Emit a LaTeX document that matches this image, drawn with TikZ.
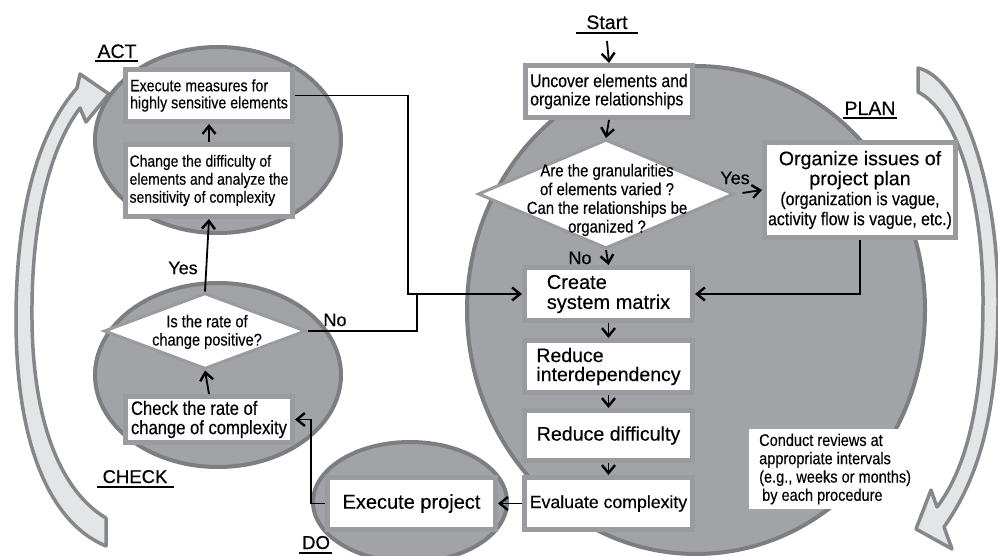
\documentclass[tikz,border=0pt]{standalone}
\usepackage{fontspec}
\setmainfont[FakeBold=0.3]{Liberation Sans}
\newfontfamily\narrowfont[FakeStretch=0.86,FakeBold=0.3]{Liberation Sans}
\usetikzlibrary{shapes.geometric,arrows.meta,calc}

\definecolor{discfill}{HTML}{A2A3A6}
\definecolor{discedge}{HTML}{7D7E81}
\definecolor{boxedge}{HTML}{9A9B9E}
\definecolor{bandfill}{HTML}{E4E5E7}
\definecolor{bandedge}{HTML}{86878A}

\begin{document}
\begin{tikzpicture}[x=1pt,y=-1pt,
  disc/.style={draw=discedge,fill=discfill,line width=4pt},
  stepbox/.style={draw=boxedge,fill=white,line width=5pt,inner sep=0pt},
  choice/.style={diamond,draw=boxedge,fill=white,line width=3pt,inner sep=0pt},
  nar/.style 2 args={font=\narrowfont\fontsize{#1}{#2}\selectfont},
  wide/.style 2 args={font=\fontsize{#1}{#2}\selectfont},
  tag/.style={font=\fontsize{19.5}{20}\selectfont,inner sep=0pt,anchor=base},
  rule/.style={line width=2pt},
  flow/.style={line width=1.8pt,-{Straight Barb[length=8pt,width=13pt,line width=2.4pt]}},
  link/.style={line width=1.8pt},
  loopband/.style={fill=bandfill,draw=bandedge,line width=3.5pt,line join=round}]

\useasboundingbox (0,0) rectangle (998,556);
\clip (0,0) rectangle (998,556);

% curved cycle arrows
\path[loopband] (106,546) -- (106,518)
  .. controls (62,492) and (33,425) .. (32,320)
  .. controls (31,220) and (50,148) .. (80,108)
  -- (86,122) -- (109,94) -- (80,74) -- (77,88)
  .. controls (36,135) and (16,215) .. (16,320)
  .. controls (16,440) and (48,522) .. (106,546) -- cycle;
\path[loopband] (918,68) .. controls (962,78) and (998,185) .. (998,300)
  .. controls (998,410) and (980,476) .. (944,527)
  -- (952,549) -- (916,529) -- (931,490) -- (937,507)
  .. controls (967,468) and (983,400) .. (983,300)
  .. controls (983,200) and (958,112) .. (918,92) -- cycle;

% phase discs
\path[disc] (696,310) ellipse [x radius=229,y radius=244];
\path[disc] (218,140) ellipse [x radius=123,y radius=93];
\path[disc] (218,375) ellipse [x radius=123,y radius=92];
\path[disc] (410,502) ellipse [x radius=97,y radius=60];

% phase labels
\node[tag] (lstart) at (607,29) {Start};
\node[tag] (lplan) at (870,115) {PLAN};
\node[tag] (lact) at (117,58) {ACT};
\node[tag,font=\fontsize{18.5}{19}\selectfont] (lcheck) at (135,483) {CHECK};
\node[tag,font=\fontsize{18.7}{19}\selectfont] (ldo) at (316,549) {DO};
\draw[rule] ($(lstart.base west)+(-10,4)$) -- ($(lstart.base east)+(10,4)$);
\draw[rule] ($(lplan.base west)+(-1,3.5)$) -- ($(lplan.base east)+(1,3.5)$);
\draw[rule] ($(lact.base west)+(-2,3.5)$) -- ($(lact.base east)+(1,3.5)$);
\draw[rule] ($(lcheck.base west)+(-5,4)$) -- ($(lcheck.base east)+(6,4)$);
\draw[rule] ($(ldo.base west)+(-3,4)$) -- ($(ldo.base east)+(2,4)$);

% PLAN
\node[stepbox,minimum width=167,minimum height=52,align=left,nar={18.3}{18.3}]
  (uncover) at (609,91.5) {Uncover elements and\\organize relationships};
\node[choice,minimum width=256,minimum height=109] (gran) at (606,194) {};
\node[nar={17.3}{18.7},align=center,inner sep=0pt] (grantext) at (607,200)
  {Are the granularities\\ of elements varied ?\\Can the relationships be\\organized ?};
\node[stepbox,minimum width=191,minimum height=95,align=center,wide={19.6}{20}]
  (issues) at (860,190)
  {Organize issues of\\project plan\\
   {\narrowfont\fontsize{18.4}{19.5}\selectfont (organization is vague,}\\
   {\narrowfont\fontsize{18.4}{19.5}\selectfont activity flow is vague, etc.)}};
\node[stepbox,minimum width=168,minimum height=53,align=left,wide={20}{20}]
  (create) at (608.5,294) {Create\\system matrix};
\node[stepbox,minimum width=168,minimum height=52,align=left,wide={19.5}{19}]
  (interdep) at (608.5,366.5) {Reduce\\interdependency};
\node[stepbox,minimum width=168,minimum height=50,wide={19.6}{20}]
  (difficulty) at (608.5,435.5) {Reduce difficulty};
\node[stepbox,minimum width=168,minimum height=52,wide={17.7}{18}]
  (evaluate) at (608.5,503.5) {Evaluate complexity};
\node[fill=white,anchor=west,align=left,inner xsep=10pt,inner ysep=4.5pt,nar={16.9}{18.3}]
  (review) at (749,469)
  {Conduct reviews at\\appropriate intervals\\(e.g., weeks or months)\\\hspace{3pt}by each procedure};

% DO
\node[stepbox,minimum width=168,minimum height=52,wide={20}{20}]
  (execute) at (411.5,503.5) {Execute project};

% CHECK
\node[stepbox,minimum width=167,minimum height=46,align=left,nar={19.3}{19.3}]
  (check) at (209,419.5) {Check the rate of\\change of complexity};
\node[choice,minimum width=202,minimum height=76] (rate) at (205,331) {};
\node[nar={17}{18.3},align=center,inner sep=0pt] (ratetext) at (207,332)
  {Is the rate of\\change positive?};

% ACT
\node[stepbox,minimum width=167,minimum height=72,align=left,nar={16.2}{18}]
  (sensitivity) at (209,180.5)
  {Change the difficulty of\\elements and analyze the\\sensitivity of complexity};
\node[stepbox,minimum width=167,minimum height=52,align=left,nar={16.5}{17}]
  (measures) at (209,95.5) {Execute measures for\\highly sensitive elements};

% answer labels
\node[wide={18}{18},inner sep=0pt] (granno) at (580,258) {No};
\node[wide={18}{18},inner sep=0pt] (granyes) at (735,178) {Yes};
\node[wide={18}{18},inner sep=0pt] (rateyes) at (183,268) {Yes};
\node[wide={18}{18},inner sep=0pt] (rateno) at (335,320) {No};

% connectors
\coordinate (joinA) at (408,294);
\coordinate (joinB) at (417,294);
\draw[flow] ($(lstart.base)+(0,12)$) -- (uncover.north);
\draw[flow] (uncover.south) -- (gran.north);
\draw[flow] (gran.south) -- (create.north);
\draw[flow,shorten <=7pt] (gran.east) -- (issues.west);
\draw[flow] (issues.south) |- (create.east);
\draw[flow] (create.south) -- (interdep.north);
\draw[flow] (interdep.south) -- (difficulty.north);
\draw[flow] (difficulty.south) -- (evaluate.north);
\draw[flow] (evaluate.west) -- (execute.east);
\draw[flow] (execute.west) -- ++(-14,0) |- (check.east);
\draw[flow] (check.north) -- (rate.south);
\draw[flow] (rate.north) -- (sensitivity.south);
\draw[flow] (sensitivity.north) -- (measures.south);
\draw[flow] (measures.east) -| (joinA) -- (create.west);
\draw[link] (rate.east) -| (joinB);
\end{tikzpicture}
\end{document}
